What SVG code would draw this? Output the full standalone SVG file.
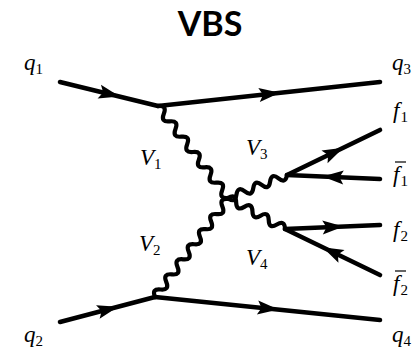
<svg xmlns="http://www.w3.org/2000/svg" width="418" height="350" viewBox="0 0 418 350">
<style>
.f{fill:none;stroke:#000;stroke-width:4.6;stroke-linecap:round;stroke-linejoin:round;marker-mid:url(#arr)}
.b{fill:none;stroke:#000;stroke-width:4.2;stroke-linecap:round;stroke-linejoin:round}
text.m{font-family:"Liberation Serif","DejaVu Serif",serif;font-style:italic;font-size:23px;fill:#000}
tspan.s{font-family:"Liberation Serif","DejaVu Serif",serif;font-style:normal;font-size:15px}
.t{font-family:Lato,"Liberation Sans",sans-serif;font-weight:bold;font-size:34px;fill:#000}
</style>
<defs>
<marker id="arr" markerUnits="userSpaceOnUse" viewBox="-12 -8 24 16" markerWidth="24" markerHeight="16" refX="0" refY="0" orient="auto">
<path d="M11,0 L-10,-7 L-6,0 L-10,7 Z" fill="#000"/>
</marker>
</defs>
<text class="t" x="210" y="36" text-anchor="middle">VBS</text>
<g id="connectors">
<path id="q1-line" class="f" d="M60,82 L109,94 L158,106"/>
<path id="q3-line" class="f" d="M158,106 L269,94 L380,82"/>
<path id="q2-line" class="f" d="M60,322 L107.5,309.5 L155,297"/>
<path id="q4-line" class="f" d="M155,297 L267.5,308.5 L380,320"/>
<path id="f1-line" class="f" d="M287,175 L333.5,152.5 L380,130"/>
<path id="f1bar-line" class="f" d="M380,179 L333.5,177 L287,175"/>
<path id="f2-line" class="f" d="M285,229 L332.5,227 L380,225"/>
<path id="f2bar-line" class="f" d="M380,275 L332.5,252 L285,229"/>
<path id="V1" class="b" transform="translate(158,106) rotate(52.73)" d="M0,0 q4.817,-8 9.633,0 t9.633,0 t9.633,0 t9.633,0 t9.633,0 t9.633,0 t9.633,0 t9.633,0 t9.633,0 t9.633,0 t9.633,0 t9.633,0"/>
<path id="V2" class="b" transform="translate(155,297) rotate(-53.3)" d="M0,0 q4.7,-8 9.4,0 t9.4,0 t9.4,0 t9.4,0 t9.4,0 t9.4,0 t9.4,0 t9.4,0 t9.4,0 t9.4,0 t9.4,0 t9.4,0 t9.4,0"/>
<path id="V3" class="b" transform="translate(228,198) rotate(-21.3)" d="M0,0 q4.52,8 9.04,0 t9.04,0 t9.04,0 t9.04,0 t9.04,0 t9.04,0 t9.04,0"/>
<path id="V4" class="b" transform="translate(228,198) rotate(28.5)" d="M0,0 q4.64,-8 9.27,0 t9.27,0 t9.27,0 t9.27,0 t9.27,0 t9.27,0 t9.27,0"/>
</g>
<g id="label-q1"><text class="m" x="24" y="70">q<tspan class="s" dy="4">1</tspan></text></g>
<g id="label-q3"><text class="m" x="392" y="70">q<tspan class="s" dy="4">3</tspan></text></g>
<g id="label-f1"><text class="m" x="393" y="118">f<tspan class="s" dx="1" dy="4">1</tspan></text></g>
<g id="label-f1bar"><text class="m" x="393" y="182">f<tspan class="s" dx="1" dy="4">1</tspan></text><line x1="395" y1="162" x2="406" y2="162" stroke="#000" stroke-width="1.2"/></g>
<g id="label-f2"><text class="m" x="393" y="237">f<tspan class="s" dx="1" dy="4">2</tspan></text></g>
<g id="label-f2bar"><text class="m" x="393" y="291">f<tspan class="s" dx="1" dy="4">2</tspan></text><line x1="395" y1="271" x2="406" y2="271" stroke="#000" stroke-width="1.2"/></g>
<g id="label-q2"><text class="m" x="24" y="342">q<tspan class="s" dy="4">2</tspan></text></g>
<g id="label-q4"><text class="m" x="392" y="342">q<tspan class="s" dy="4">4</tspan></text></g>
<g id="label-V1"><text class="m" x="140" y="165">V<tspan class="s" dy="4">1</tspan></text></g>
<g id="label-V3"><text class="m" x="246" y="155">V<tspan class="s" dy="4">3</tspan></text></g>
<g id="label-V2"><text class="m" x="139" y="251">V<tspan class="s" dy="4">2</tspan></text></g>
<g id="label-V4"><text class="m" x="246" y="265">V<tspan class="s" dy="4">4</tspan></text></g>
</svg>
